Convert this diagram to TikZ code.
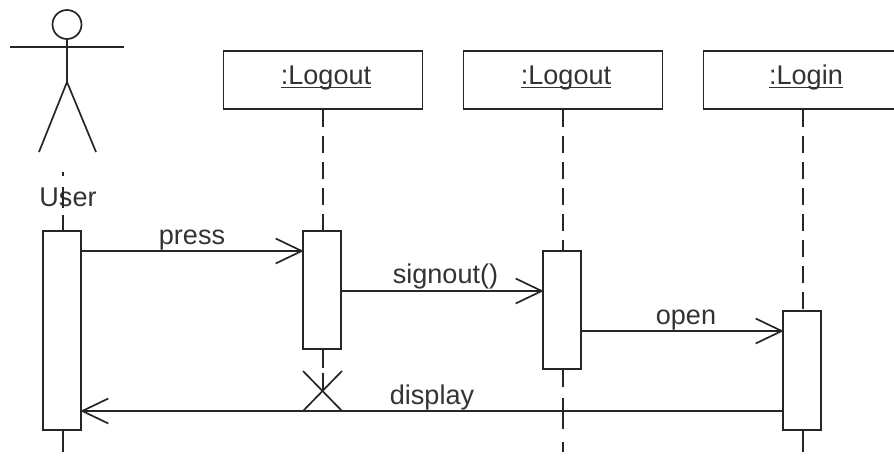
\documentclass[tikz,border=0pt]{standalone}
\usepackage{fontspec}
\setmainfont{Liberation Sans}
\usetikzlibrary{arrows.meta}
\newcommand{\objname}[1]{\hspace*{.12cm}\setbox0\hbox{#1}\rlap{\rule[-2.2pt]{\wd0}{.9pt}}\box0}
\tikzset{
	objbox/.style={draw=black!85,line width=.034cm,minimum width=3.98cm,minimum height=1.16cm,inner sep=0pt,text height=.3cm,text depth=.12cm,text=black!80},
	bar/.style={draw=black!85,fill=white,line width=.034cm,minimum width=.76cm,inner sep=0pt},
	lifeline/.style={draw=black!85,line width=.034cm,dash pattern=on .34cm off .18cm},
	msg/.style={draw=black!85,line width=.034cm,shorten >=-.03cm,-{Straight Barb[length=.52cm,width=.5cm,line width=.034cm]}},
	limb/.style={draw=black!85,line width=.034cm},
	lbl/.style={inner sep=0pt,anchor=base,text=black!80}
}
\begin{document}
\begin{tikzpicture}[x=.02cm,y=-.02cm,font=\fontsize{15.4}{18}\selectfont]
	\useasboundingbox (0,0) rectangle (894,457);
	% actor
	\node[circle,draw=black!85,line width=.034cm,minimum size=.58cm,inner sep=0pt] (head) at (67,24.5) {};
	\coordinate (hip) at (67,82);
	\coordinate (armL) at (10,47);
	\coordinate (armR) at (124,47);
	\coordinate (footL) at (39,152);
	\coordinate (footR) at (96,152);
	\draw[limb] (head.south) -- (hip);
	\draw[limb] (armL) -- (armR);
	\draw[limb] (footL) -- (hip) -- (footR);
	\node[lbl] (user) at (68,206) {User};
	% objects
	\node[objbox] (logoutA) at (323,80) {\objname{:Logout}};
	\node[objbox] (logoutB) at (563,80) {\objname{:Logout}};
	\node[objbox] (login) at (803,80) {\objname{:Login}};
	% activations
	\node[bar,minimum height=3.98cm] (barU) at (62,330.5) {};
	\node[bar,minimum height=2.36cm] (barA) at (322,290) {};
	\node[bar,minimum height=2.36cm] (barB) at (562,310) {};
	\node[bar,minimum height=2.38cm] (barC) at (802,370.5) {};
	% ends of the lifelines
	\coordinate (userTop) at (63,172);
	\coordinate (userEnd) at (63,452);
	\coordinate (cross) at (323,391);
	\coordinate (logoutEnd) at (563,452);
	\coordinate (loginEnd) at (803,452);
	\coordinate (midU) at (63,231);
	\coordinate (lowU) at (63,430);
	\draw[lifeline,dash pattern=on .08cm off .22cm on .42cm off .14cm on .34cm off .2cm] (userTop) -- (midU);
	\draw[lifeline,dash pattern=on .44cm off .1cm] (lowU) -- (userEnd);
	\draw[lifeline] (logoutA.south) -- (logoutA.south |- barA.north);
	\draw[lifeline,dash pattern=on .36cm off .1cm] (cross |- barA.south) -- (cross);
	\draw[lifeline] (logoutB.south) -- (logoutB.south |- barB.north);
	\draw[lifeline,dash pattern=on .34cm off .22cm on .62cm off .26cm on .22cm off .2cm] (logoutEnd |- barB.south) -- (logoutEnd);
	\draw[lifeline] (login.south) -- (login.south |- barC.north);
	\draw[lifeline,dash pattern=on .44cm off .1cm] (loginEnd |- barC.south) -- (loginEnd);
	% messages
	\coordinate (pressY) at (0,251);
	\coordinate (signoutY) at (0,291);
	\coordinate (openY) at (0,331);
	\coordinate (displayY) at (0,411);
	\draw[msg] (barU.east |- pressY) -- (barA.west |- pressY);
	\draw[msg] (barA.east |- signoutY) -- (barB.west |- signoutY);
	\draw[msg] (barB.east |- openY) -- (barC.west |- openY);
	\draw[msg] (barC.west |- displayY) -- (barU.east |- displayY);
	\node[lbl] (press) at (192,244) {press};
	\node[lbl] (signout) at (445.5,283) {signout()};
	\node[lbl] (open) at (686,324) {open};
	\node[lbl] (display) at (432,404) {display};
	% destroyed object
	\draw[limb] (303,371) -- (342,411);
	\draw[limb] (342,371) -- (303,411);
\end{tikzpicture}
\end{document}
